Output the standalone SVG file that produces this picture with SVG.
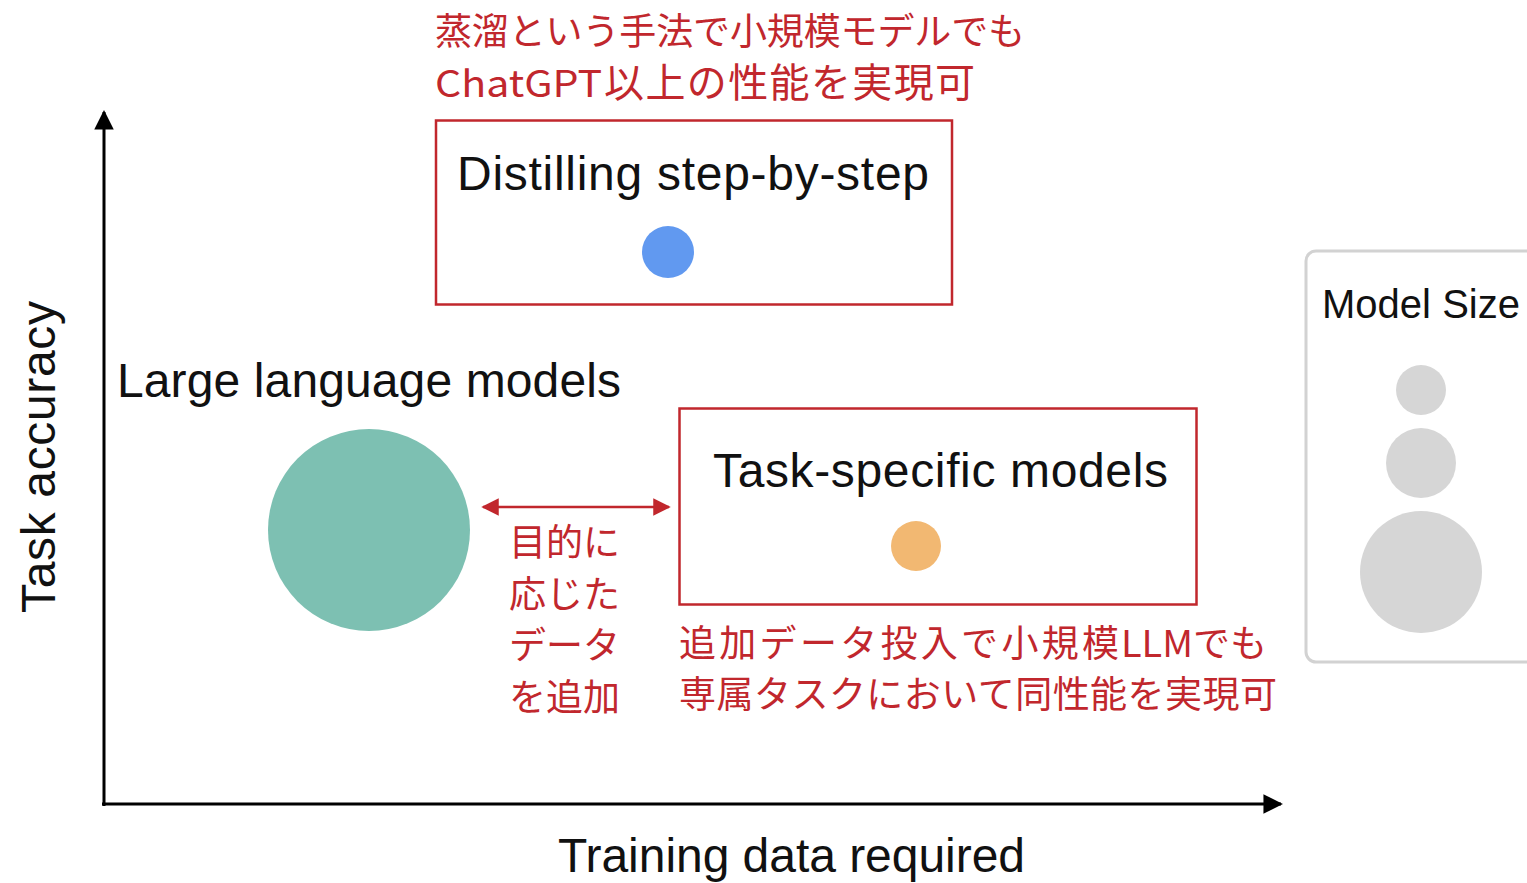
<svg xmlns="http://www.w3.org/2000/svg" width="1527" height="883" viewBox="0 0 1527 883">
<style>
.lbl{font-family:"Liberation Sans",Arial,sans-serif;fill:#111;}
.jp{font-family:"Noto Sans CJK JP","Noto Sans",sans-serif;fill:#C1272D;font-size:37px;}
.box{fill:#fff;stroke:#C1272D;stroke-width:2.5;}
.axis{stroke:#000;stroke-width:3;fill:none;}
.gray{fill:#D6D6D6;}
</style>
<defs>
<marker id="ah" viewBox="0 0 10 10" refX="9" refY="5" markerWidth="6.5" markerHeight="6.5" markerUnits="strokeWidth" orient="auto-start-reverse">
<path d="M0,0 L10,5 L0,10 Z" fill="#000"/>
</marker>
<marker id="rh" viewBox="0 0 10 10" refX="9" refY="5" markerWidth="8" markerHeight="7" markerUnits="strokeWidth" orient="auto-start-reverse">
<path d="M0,0 L10,5 L0,10 Z" fill="#C1272D"/>
</marker>
</defs>
<rect width="1527" height="883" fill="#fff"/>

<g id="connectors">
<path class="axis" d="M104,806 L104,112" marker-end="url(#ah)"/>
<path class="axis" d="M102,804 L1281,804" marker-end="url(#ah)"/>
<path d="M483,507 L669,507" stroke="#C1272D" stroke-width="2.5" fill="none" marker-start="url(#rh)" marker-end="url(#rh)"/>
</g>

<g id="y-label">
<text class="lbl" font-size="48" text-anchor="middle" transform="translate(55,457) rotate(-90)" textLength="312">Task accuracy</text>
</g>
<g id="x-label">
<text class="lbl" x="558" y="872" font-size="48" textLength="467">Training data required</text>
</g>

<g id="distill-note">
<text class="jp" x="435" y="45" textLength="590">蒸溜という手法で小規模モデルでも</text>
<text class="jp" x="435" y="97" font-size="39"><tspan x="435" textLength="167" lengthAdjust="spacingAndGlyphs">ChatGPT</tspan><tspan x="604" font-size="40" textLength="371">以上の性能を実現可</tspan></text>
</g>

<g id="distill">
<rect class="box" x="436" y="120.5" width="516" height="184"/>
<text class="lbl" x="457" y="190" font-size="48" textLength="472">Distilling step-by-step</text>
<circle cx="668" cy="252" r="26" fill="#6199F0"/>
</g>

<g id="llm">
<text class="lbl" x="117" y="397" font-size="48" textLength="504">Large language models</text>
<circle cx="369" cy="530" r="101" fill="#7DC0B2"/>
</g>

<g id="data-note">
<text class="jp" x="509" y="556" font-size="38">目的に</text>
<text class="jp" x="509" y="608" font-size="38">応じた</text>
<text class="jp" x="509" y="659" font-size="38">データ</text>
<text class="jp" x="509" y="711" font-size="38">を追加</text>
</g>

<g id="task-specific">
<rect class="box" x="679.5" y="408.5" width="517" height="196"/>
<text class="lbl" x="713" y="487" font-size="48" textLength="455">Task-specific models</text>
<circle cx="916" cy="546" r="25" fill="#F2B872"/>
</g>

<g id="task-note">
<text class="jp" x="679" y="657" font-size="38"><tspan x="679" textLength="440">追加データ投入で小規模</tspan><tspan x="1121" textLength="72" lengthAdjust="spacingAndGlyphs">LLM</tspan><tspan x="1193">でも</tspan></text>
<text class="jp" x="679" y="708" textLength="598">専属タスクにおいて同性能を実現可</text>
</g>

<g id="legend">
<rect x="1306" y="251" width="240" height="411" rx="10" ry="10" fill="#fff" stroke="#D2D2D2" stroke-width="3"/>
<text class="lbl" x="1322" y="318" font-size="40" textLength="198">Model Size</text>
<circle class="gray" cx="1421" cy="390" r="25"/>
<circle class="gray" cx="1421" cy="463" r="35"/>
<circle class="gray" cx="1421" cy="572" r="61"/>
</g>
</svg>
